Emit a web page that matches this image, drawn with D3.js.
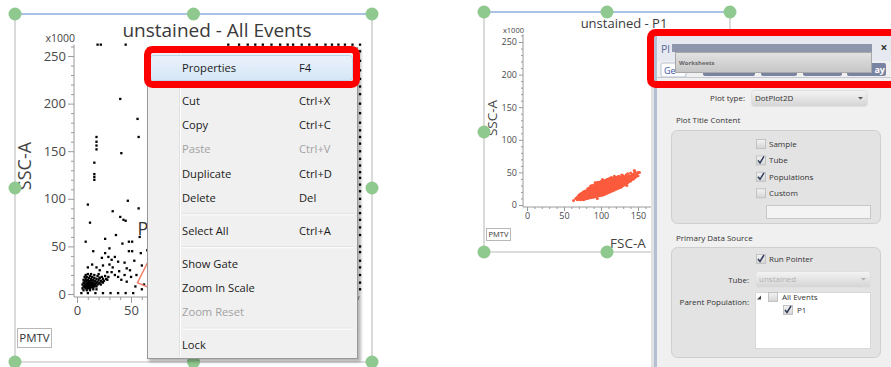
<!DOCTYPE html>
<html>
<head>
<meta charset="utf-8">
<script src="https://cdn.jsdelivr.net/npm/d3@7/dist/d3.min.js"></script>
<style>
html,body{margin:0;padding:0;background:#fff;}
svg{display:block;}
text{font-family:"Open Sans","Noto Sans",sans-serif;}
</style>
</head>
<body>
<svg id="view" width="891" height="367"></svg>
<script>
// ---------------- data ----------------
const axisMax = 262;                       // scale maximum, x1000
const majorTicks = [0, 50, 100, 150, 200, 250];
const minorTicks = [10, 20, 30, 40, 60, 70, 80, 90, 110, 120, 130, 140, 160, 170, 180, 190, 210, 220, 230, 240, 260];
const xAxisName = "FSC-A";
const yAxisName = "SSC-A";
const scaleNote = "x1000";
const tubeName = "unstained";
const leftTitle = "unstained - All Events";
const rightTitle = "unstained - P1";
const pmtLabel = "PMTV";

// All Events, [FSC-A, SSC-A] (x1000): dense debris cluster
const allEventsCore = [
  [5,6],[6,8],[5,10],[6,12],[7,7],[7,9],[7,11],[7,14],[8,6],[8,8],[8,10],[8,13],[8,16],
  [9,7],[9,9],[9,11],[9,14],[9,18],[10,6],[10,8],[10,10],[10,12],[10,15],[11,7],[11,9],
  [11,11],[11,13],[11,17],[12,6],[12,8],[12,10],[12,12],[12,14],[12,19],[13,7],[13,9],
  [13,11],[13,16],[14,8],[14,10],[14,12],[14,14],[14,18],[15,7],[15,9],[15,11],[15,15],
  [16,8],[16,10],[16,13],[16,17],[17,9],[17,11],[17,14],[18,8],[18,12],[18,16],[19,10],
  [19,13],[19,19],[20,11],[20,15],[21,12],[21,17],[22,10],[22,14],[23,13],[23,18],[24,12],
  [24,16],[25,14],[26,19],[6,15],[7,18],[8,20],[10,21],[13,21],[16,20],[20,21],[27,16],
  [29,18],[6,4],[9,4],[12,4],[15,5],[18,5],[4,1],[10,1],[17,1],[24,1],[31,1],[38,1],[45,1],[52,1]
];
// All Events: scattered events
const allEventsScatter = [
  [10,94],[33,87],[40,81],[43,78],[12,75],[26,58],[42,53],[48,55],[51,55],[48,45],[51,45],
  [59,43],[65,46],[26,43],[29,39],[35,39],[23,38],[32,36],[38,34],[44,33],[46,27],[49,25],
  [10,28],[14,31],[18,28],[21,25],[28,23],[32,23],[35,20],[38,18],[41,15],[46,13],[21,17],
  [28,15],[47,98],[57,90],[45,77],[40,205],[56,184],[57,165],[18,165],[18,160],[18,156],
  [18,152],[41,148],[16,138],[16,126],[16,123],[16,120],[55,20],[60,30],[53,35],[62,10],
  [58,60],[36,62],[30,48],[15,45],[8,55],[33,28],[39,24],[44,20],[50,18],[54,8],[60,5],
  [24,30],[30,31],[19,262],[22,262],[45,262]
];
// All Events: events piled up on the scale maximum
const allEventsEdge = [
  [262,5],[262,12],[262,20],[262,28],[262,35],[262,44],[262,50],[262,62],[262,70],[262,78],
  [262,85],[262,92],[262,100],[262,108],[262,115],[262,122],[262,128],[262,135],[262,142],
  [262,150],[262,158],[262,165],[262,172],[262,180],[262,190],[262,200],[262,210],[262,218],
  [262,226],[262,235],[262,245],[262,255],[262,262],
  [140,262],[150,262],[158,262],[165,262],[172,262],[180,262],[188,262],[195,262],[200,262],
  [208,262],[215,262],[222,262],[230,262],[236,262],[242,262],[248,262],[255,262]
];

// Gate P1 polygon, [FSC-A, SSC-A]
const gateName = "P1";
const gateP1 = [[56,12],[72,48],[130,62],[80,0]];

// P1 events, by FSC-A column: [FSC-A, [SSC-A, ...]]
const p1Columns = [
  [66,[10]],[68,[8,12]],[70,[9,12,15]],[72,[8,11,14,17]],[74,[9,12,15,18]],
  [76,[8,11,14,17,20]],[78,[9,12,15,18,21]],[80,[10,13,16,19,22]],
  [82,[10,13,16,19,22,25]],[84,[11,14,17,20,23,26]],[86,[11,14,17,20,23,26,29]],
  [88,[12,15,18,21,24,27,30]],[90,[12,15,18,21,24,27,30]],
  [92,[13,16,19,22,25,28,31,34]],[94,[13,16,19,22,25,28,31,34]],
  [96,[14,17,20,23,26,29,32,35]],[98,[14,17,20,23,26,29,32,35]],
  [100,[15,18,21,24,27,30,33,36]],[102,[15,18,21,24,27,30,33,36,39]],
  [104,[16,19,22,25,28,31,34,37]],[106,[17,20,23,26,29,32,35,38]],
  [108,[18,21,24,27,30,33,36,39]],[110,[19,22,25,28,31,34,37,40]],
  [112,[20,23,26,29,32,35,38,41]],[114,[21,24,27,30,33,36,39,42]],
  [116,[22,25,28,31,34,37,40]],[118,[23,26,29,32,35,38,41,44]],
  [120,[24,27,30,33,36,39,42]],[122,[25,28,31,34,37,40,43]],
  [124,[26,29,32,35,38,41,44]],[126,[27,30,33,36,39,42]],
  [128,[28,31,34,37,40,43,46]],[130,[30,33,36,39,42,45]],[132,[31,34,37,40,43]],
  [134,[33,36,39,42,46]],[136,[34,37,40,43,48]],[138,[36,39,42,45]],
  [140,[37,40,44,49]],[142,[39,42,46]],[144,[40,44,48]],[146,[42,46,51]],
  [148,[44,48]],[150,[45,50]],[63,[7]],[152,[50]],[145,[53]],[135,[30]],[95,[10]]
];

// Context menu
const menuGroups = [
  ["Properties"],
  ["Cut", "Copy", "Paste", "Duplicate", "Delete"],
  ["Select All"],
  ["Show Gate", "Zoom In Scale", "Zoom Reset"],
  ["Lock"]
];
const menuShortcuts = {"Properties":"F4","Cut":"Ctrl+X","Copy":"Ctrl+C","Paste":"Ctrl+V",
  "Duplicate":"Ctrl+D","Delete":"Del","Select All":"Ctrl+A"};
const menuDisabled = ["Paste", "Zoom Reset"];
const menuActive = "Properties";

// Properties dialog
const dialogTitle = "Pl";
const dialogTabs = ["Ge", "", "", "", "ay"];
const plotType = "DotPlot2D";
const titleOptions = ["Sample", "Tube", "Populations", "Custom"];
const titleChecked = ["Tube", "Populations"];
const populations = [{name:"All Events", checked:false}, {name:"P1", checked:true}];

// ---------------- drawing ----------------
const svg = d3.select("#view");
const defs = svg.append("defs");
defs.append("filter").attr("id", "soft").attr("x", "-10%").attr("y", "-10%").attr("width", "130%").attr("height", "130%")
  .append("feGaussianBlur").attr("stdDeviation", 1.6);
const hl = defs.append("linearGradient").attr("id", "hl").attr("x1", 0).attr("x2", 0).attr("y1", 0).attr("y2", 1);
hl.append("stop").attr("offset", 0).attr("stop-color", "#eaf2fb");
hl.append("stop").attr("offset", 1).attr("stop-color", "#d6e6f6");
const ws = defs.append("linearGradient").attr("id", "ws").attr("x1", 0).attr("x2", 0).attr("y1", 0).attr("y2", 1);
ws.append("stop").attr("offset", 0).attr("stop-color", "#e2e2e2");
ws.append("stop").attr("offset", 1).attr("stop-color", "#c6c6c6");
const cb = defs.append("linearGradient").attr("id", "cb").attr("x1", 0).attr("x2", 0).attr("y1", 0).attr("y2", 1);
cb.append("stop").attr("offset", 0).attr("stop-color", "#f4f4f4");
cb.append("stop").attr("offset", 1).attr("stop-color", "#d4d4d4");

const menuBox = {x: 147, y: 47, w: 210, h: 311};
const dialogLeft = 651;

// selection frame of a plot: grey borders, blue top edge
function frame(x0, y0, x1, y1) {
  const g = svg.append("g");
  g.append("path").attr("d", `M${x0},${y0}V${y1}H${x1}V${y0}`).attr("fill", "none")
    .attr("stroke", "#d2d2d2").attr("stroke-width", 1.6);
  g.append("line").attr("x1", x0 - 3).attr("x2", x1).attr("y1", y0).attr("y2", y0)
    .attr("stroke", "#a9c1e4").attr("stroke-width", 2);
}
// green resize handles on the corners and edge midpoints
function drawHandles(x0, y0, x1, y1) {
  const xm = (x0 + x1) / 2, ym = (y0 + y1) / 2;
  const list = [[x0,y0],[xm,y0],[x1,y0],[x0,ym],[x1,ym],[x0,y1],[xm,y1],[x1,y1]];
  svg.append("g").selectAll("circle").data(list).join("circle")
    .attr("cx", d => d[0]).attr("cy", d => d[1]).attr("r", 6.5)
    .attr("fill", "#8fc98f");
}

function plot(cfg) {
  const g = svg.append("g");
  const x = d3.scaleLinear().domain([0, axisMax]).range([cfg.x0, cfg.x1]);
  const y = d3.scaleLinear().domain([0, axisMax]).range([cfg.y0, cfg.y1]);

  g.append("text").attr("x", cfg.titleX).attr("y", cfg.titleY).attr("text-anchor", "middle")
    .attr("font-size", cfg.titleSize).attr("fill", "#3a3a3a").text(cfg.title);
  g.append("text").attr("x", cfg.ax + 1).attr("y", cfg.noteY).attr("text-anchor", "end")
    .attr("font-size", cfg.noteSize).attr("fill", "#444").text(scaleNote);

  // axis lines
  g.append("path").attr("d", `M${cfg.ax},${y(axisMax)}V${cfg.ay}H${x(axisMax)}`)
    .attr("fill", "none").attr("stroke", "#9a9a9a").attr("stroke-width", 1);

  const styleAxis = sel => {
    sel.select(".domain").remove();
    sel.selectAll("line").attr("stroke", "#9a9a9a");
    sel.selectAll("text").attr("fill", "#4a4a4a").attr("font-size", cfg.tickSize)
      .attr("font-family", '"Open Sans","Noto Sans",sans-serif');
  };
  // x labels that fall under an overlapping window are left out
  const xLabel = d => x(d) < cfg.xLabelMax ? d : "";
  g.append("g").attr("transform", `translate(${cfg.ax},0)`)
    .call(d3.axisLeft(y).tickValues(majorTicks).tickSize(cfg.major).tickPadding(2).tickSizeOuter(0)).call(styleAxis);
  g.append("g").attr("transform", `translate(${cfg.ax},0)`)
    .call(d3.axisLeft(y).tickValues(minorTicks).tickSize(cfg.minor).tickFormat("").tickSizeOuter(0)).call(styleAxis);
  g.append("g").attr("transform", `translate(0,${cfg.ay})`)
    .call(d3.axisBottom(x).tickValues(majorTicks).tickSize(cfg.major).tickPadding(cfg.xPad).tickFormat(xLabel).tickSizeOuter(0)).call(styleAxis);
  g.append("g").attr("transform", `translate(0,${cfg.ay})`)
    .call(d3.axisBottom(x).tickValues(minorTicks).tickSize(cfg.minor).tickFormat("").tickSizeOuter(0)).call(styleAxis);

  g.append("text").attr("transform", `translate(${cfg.yNameX},${cfg.yNameY}) rotate(-90)`)
    .attr("text-anchor", "middle").attr("font-size", cfg.nameSize).attr("fill", "#444").text(yAxisName);
  if (cfg.xNameX < cfg.xLabelMax) {
    g.append("text").attr("x", cfg.xNameX).attr("y", cfg.xNameY).attr("text-anchor", "middle")
      .attr("font-size", cfg.nameSize).attr("fill", "#444").text(xAxisName);
  }

  g.append("rect").attr("x", cfg.pmt[0]).attr("y", cfg.pmt[1]).attr("width", cfg.pmt[2]).attr("height", cfg.pmt[3])
    .attr("fill", "#fff").attr("stroke", "#b8b8b8");
  g.append("text").attr("x", cfg.pmt[0] + cfg.pmt[2] / 2).attr("y", cfg.pmt[1] + cfg.pmt[3] / 2)
    .attr("dy", "0.35em").attr("text-anchor", "middle").attr("font-size", cfg.pmtSize).attr("fill", "#333").text(pmtLabel);
  return {g, x, y};
}

// ---- left plot: All Events ----
frame(15, 14, 372, 362);
const L = plot({
  x0: 77, x1: 360, y0: 294, y1: 44.6, ax: 74, ay: 297, major: 6, minor: 3, xPad: 3, xLabelMax: menuBox.x,
  tickSize: 13, title: leftTitle, titleX: 217, titleY: 37, titleSize: 19,
  noteY: 42, noteSize: 10.5, yNameX: 31, yNameY: 166, xNameX: 217, xNameY: 345, nameSize: 18,
  pmt: [17.5, 328.5, 34, 19], pmtSize: 11.5
});
L.g.append("g").attr("fill", "#000").selectAll("rect")
  .data(allEventsCore.concat(allEventsScatter, allEventsEdge)).join("rect")
  .attr("x", d => L.x(d[0]) - 1.1).attr("y", d => L.y(d[1]) - 1.1).attr("width", 2.3).attr("height", 2.3);
L.g.append("path").datum(gateP1)
  .attr("d", d3.line().x(d => L.x(d[0])).y(d => L.y(d[1])).curve(d3.curveLinearClosed))
  .attr("fill", "none").attr("stroke", "#f27a68").attr("stroke-width", 1.4);
L.g.append("text").attr("x", L.x(56)).attr("y", L.y(62)).attr("font-size", 18).attr("fill", "#333").text(gateName.charAt(0));
drawHandles(15, 14, 372, 362);

// ---- right plot: P1 ----
frame(484, 12, 730, 252);
const R = plot({
  x0: 527, x1: 527 + 262 * 0.74, y0: 205, y1: 205 - 262 * 0.652, ax: 523, ay: 207, major: 4, minor: 2, xPad: 2,
  xLabelMax: dialogLeft,
  tickSize: 9, title: rightTitle, titleX: 624, titleY: 28, titleSize: 13,
  noteY: 33, noteSize: 7.5, yNameX: 497, yNameY: 118, xNameX: 628, xNameY: 248, nameSize: 13.5,
  pmt: [486.5, 228.5, 24, 12], pmtSize: 7.5
});
const p1Events = p1Columns.flatMap(([f, ss]) => ss.map(s => [f, s]));
R.g.append("g").attr("fill", "#fb5b3d").selectAll("circle").data(p1Events).join("circle")
  .attr("cx", d => R.x(d[0])).attr("cy", d => R.y(d[1])).attr("r", 1.5);
drawHandles(484, 12, 730, 252);

// ---- context menu ----
const menu = svg.append("g");
const {x: mx, y: my, w: mw, h: mh} = menuBox;
const itemH = 24.3, sepH = 8.5, firstCy = 68;
menu.append("rect").attr("x", mx + 2).attr("y", my + 2).attr("width", mw + 2).attr("height", mh + 2)
  .attr("fill", "#000").attr("opacity", 0.28).attr("filter", "url(#soft)");
menu.append("rect").attr("x", mx + 0.5).attr("y", my + 0.5).attr("width", mw).attr("height", mh)
  .attr("fill", "#f0f0f0").attr("stroke", "#979797");
menu.append("line").attr("x1", 179.5).attr("x2", 179.5).attr("y1", my + 3).attr("y2", my + mh - 2).attr("stroke", "#e0e0e0");
menu.append("line").attr("x1", 180.5).attr("x2", 180.5).attr("y1", my + 3).attr("y2", my + mh - 2).attr("stroke", "#fff");

const rows = [], seps = [];
let cy = firstCy;
menuGroups.forEach((grp, gi) => {
  if (gi > 0) { seps.push(cy + itemH / 2 + sepH / 2); cy += itemH + sepH; }
  grp.forEach((name, ii) => { if (ii > 0) cy += itemH; rows.push({name, cy}); });
});
seps.forEach(s => {
  menu.append("line").attr("x1", 182).attr("x2", mx + mw - 3).attr("y1", s - 0.5).attr("y2", s - 0.5).attr("stroke", "#e0e0e0");
  menu.append("line").attr("x1", 182).attr("x2", mx + mw - 3).attr("y1", s + 0.5).attr("y2", s + 0.5).attr("stroke", "#fff");
});
rows.filter(r => r.name === menuActive).forEach(r => {
  menu.append("rect").attr("x", 150.5).attr("y", r.cy - 12.5).attr("width", 202).attr("height", 25).attr("rx", 3)
    .attr("fill", "url(#hl)").attr("stroke", "#b9d5f0");
});
const mItems = menu.selectAll("g.item").data(rows).join("g").attr("class", "item");
mItems.append("text").attr("x", 182).attr("y", d => d.cy).attr("dy", "0.35em").attr("font-size", 11.2)
  .attr("fill", d => menuDisabled.includes(d.name) ? "#a2a2a2" : "#1b1b1b").text(d => d.name);
mItems.append("text").attr("x", 299).attr("y", d => d.cy).attr("dy", "0.35em").attr("font-size", 11.2)
  .attr("fill", d => menuDisabled.includes(d.name) ? "#a2a2a2" : "#1b1b1b").text(d => menuShortcuts[d.name] || "");
// callout around the active item
menu.append("rect").attr("x", 147.5).attr("y", 49.5).attr("width", 209).attr("height", 35).attr("rx", 5)
  .attr("fill", "none").attr("stroke", "#ff0000").attr("stroke-width", 7);

// ---- properties dialog ----
const dlg = svg.append("g");
dlg.append("rect").attr("x", dialogLeft).attr("y", 33).attr("width", 4).attr("height", 340).attr("fill", "#e2e2e2");
dlg.append("rect").attr("x", dialogLeft + 3).attr("y", 33).attr("width", 3).attr("height", 340).attr("fill", "#b3c0d3");
dlg.append("rect").attr("x", dialogLeft + 6).attr("y", 33).attr("width", 240).attr("height", 340).attr("fill", "#f0f0f0");
dlg.append("rect").attr("x", dialogLeft + 6).attr("y", 33).attr("width", 240).attr("height", 28).attr("fill", "#e6e9ef");
dlg.append("text").attr("x", 661).attr("y", 49).attr("dy", "0.35em").attr("font-size", 10.5).attr("fill", "#5a6a9a").text(dialogTitle);
dlg.append("text").attr("x", 884).attr("y", 48).attr("dy", "0.35em").attr("text-anchor", "middle")
  .attr("font-size", 12).attr("font-weight", "bold").attr("fill", "#333").text("×");

// tab strip
const tabX = [[661,686],[703,755],[761,797],[803,842],[847,886]];
tabX.forEach(([a, b], i) => {
  dlg.append("rect").attr("x", a).attr("y", 63).attr("width", b - a).attr("height", i === 0 ? 14 : 13).attr("rx", 2)
    .attr("fill", i === 0 ? "#fdfdfd" : "#7984a1").attr("stroke", i === 0 ? "#b8c0d0" : "none");
});
dlg.append("text").attr("x", 664).attr("y", 71).attr("dy", "0.35em").attr("font-size", 9).attr("fill", "#3a5aa8")
  .text(dialogTabs[0]);
dlg.append("text").attr("x", 885).attr("y", 70).attr("dy", "0.35em").attr("text-anchor", "end").attr("font-size", 9)
  .attr("font-weight", "bold").attr("fill", "#fff").text(dialogTabs[4]);
dlg.append("line").attr("x1", 657).attr("x2", 891).attr("y1", 77.5).attr("y2", 77.5).attr("stroke", "#c4c8d0");

// worksheet drop-down overlay
dlg.append("rect").attr("x", 672).attr("y", 44).attr("width", 200).attr("height", 8).attr("fill", "#8d96ab");
dlg.append("rect").attr("x", 675.5).attr("y", 52.5).attr("width", 196).attr("height", 20).attr("fill", "url(#ws)").attr("stroke", "#a8a8a8");
dlg.append("text").attr("x", 679).attr("y", 63).attr("dy", "0.35em").attr("font-size", 6).attr("font-weight", "bold")
  .attr("fill", "#666").text("Worksheets");

// callout around the dialog header
dlg.append("rect").attr("x", 650.5).attr("y", 32.5).attr("width", 260).attr("height", 52).attr("rx", 5)
  .attr("fill", "none").attr("stroke", "#ff0000").attr("stroke-width", 7);

const fs = 8;
function label(x, y, t, anchor, color) {
  dlg.append("text").attr("x", x).attr("y", y).attr("dy", "0.35em").attr("font-size", fs)
    .attr("text-anchor", anchor || "start").attr("fill", color || "#333").text(t);
}
function dropdown(x, y, w, h, t, color) {
  dlg.append("rect").attr("x", x + 0.5).attr("y", y + 0.5).attr("width", w).attr("height", h).attr("rx", 3)
    .attr("fill", "url(#cb)").attr("stroke", "#e0e0e0");
  label(x + 4, y + h / 2 + 0.5, t, "start", color);
  dlg.append("path").attr("d", `M${x + w - 9},${y + h / 2 - 1}h5l-2.5,2.5z`).attr("fill", color || "#555");
}
function checkbox(x, y, checked) {
  dlg.append("rect").attr("x", x + 0.5).attr("y", y + 0.5).attr("width", 9).attr("height", 9)
    .attr("fill", "url(#cb)").attr("stroke", "#c2c2c2");
  if (checked) dlg.append("path").attr("d", `M${x + 2},${y + 5} L${x + 4},${y + 7.5} L${x + 8},${y + 1}`)
    .attr("fill", "none").attr("stroke", "#303a5a").attr("stroke-width", 1.5);
}

label(745, 98, "Plot type:", "end");
dropdown(751, 90, 116, 16, plotType);
label(676, 120, "Plot Title Content");
dlg.append("rect").attr("x", 671.5).attr("y", 130.5).attr("width", 209).attr("height", 93).attr("rx", 6)
  .attr("fill", "#e3e3e3").attr("stroke", "#cfcfcf");
titleOptions.forEach((t, i) => {
  const yy = 144 + i * 16.4;
  checkbox(756, yy - 5, titleChecked.includes(t));
  label(769, yy, t);
});
dlg.append("rect").attr("x", 766.5).attr("y", 205.5).attr("width", 104).attr("height", 13)
  .attr("fill", "#f3f3f3").attr("stroke", "#c8c8c8");

label(676, 238, "Primary Data Source");
dlg.append("rect").attr("x", 671.5).attr("y", 247.5).attr("width", 209).attr("height", 110).attr("rx", 6)
  .attr("fill", "#e3e3e3").attr("stroke", "#cfcfcf");
checkbox(756, 254, true);
label(769, 259, "Run Pointer");
label(749, 280, "Tube:", "end");
dropdown(755, 271, 115, 16, tubeName, "#b0b0b0");
label(749, 302, "Parent Population:", "end");
dlg.append("rect").attr("x", 755.5).attr("y", 292.5).attr("width", 115).attr("height", 56).attr("fill", "#fff").attr("stroke", "#d8d8d8");
dlg.append("path").attr("d", "M757,299.5h4v-4z").attr("fill", "#444");
populations.forEach((p, i) => {
  const px = 768 + i * 15, py = 292 + i * 13;
  checkbox(px, py, p.checked);
  label(px + 14, py + 5.5, p.name);
});
</script>
</body>
</html>
